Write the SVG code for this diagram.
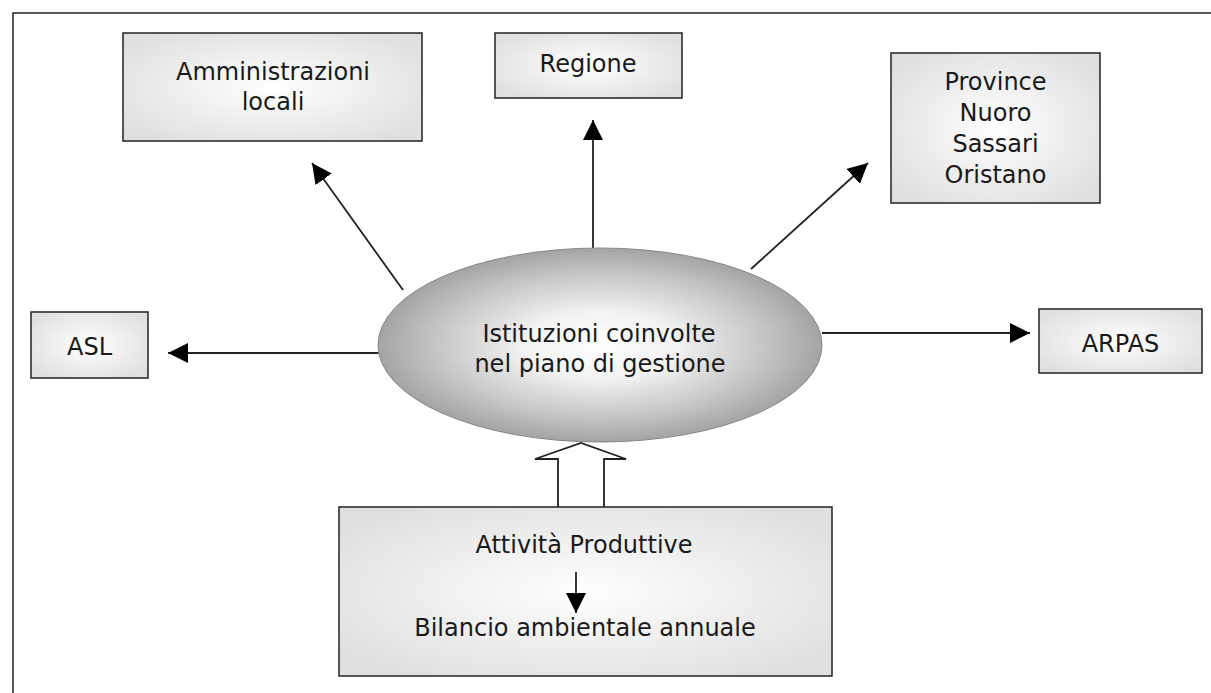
<svg xmlns="http://www.w3.org/2000/svg" width="1211" height="693" viewBox="0 0 1211 693">
<defs>
<radialGradient id="boxg" cx="50%" cy="50%" r="60%">
<stop offset="0" stop-color="#ffffff"/>
<stop offset="1" stop-color="#e0e0e0"/>
</radialGradient>
<radialGradient id="ellg" cx="50%" cy="50%" r="50%">
<stop offset="0" stop-color="#ffffff"/>
<stop offset="0.35" stop-color="#f2f2f2"/>
<stop offset="0.75" stop-color="#c4c4c4"/>
<stop offset="1" stop-color="#a4a4a4"/>
</radialGradient>
<marker id="ah" markerUnits="userSpaceOnUse" markerWidth="22" markerHeight="20" refX="20" refY="10" orient="auto">
<path d="M0,0 L20,10 L0,20 Z" fill="#000"/>
</marker>
</defs>
<style>
.box{fill:url(#boxg);stroke:#222;stroke-width:1.5}
.t{font-family:"DejaVu Sans",Verdana,sans-serif;font-size:24px;fill:#1a1a1a;text-anchor:middle}
.c{stroke:#222;stroke-width:1.8;fill:none}
</style>
<rect width="1211" height="693" fill="#fff"/>
<path d="M13,693 L13,13 L1211,13" fill="none" stroke="#222" stroke-width="1.5"/>

<g id="connectors">
<line class="c" x1="593" y1="248" x2="593" y2="120" marker-end="url(#ah)"/>
<line class="c" x1="403" y1="290" x2="312" y2="163" marker-end="url(#ah)"/>
<line class="c" x1="751" y1="269" x2="868" y2="163" marker-end="url(#ah)"/>
<line class="c" x1="379" y1="353" x2="168" y2="353" marker-end="url(#ah)"/>
<line class="c" x1="822" y1="333" x2="1030" y2="333" marker-end="url(#ah)"/>
<path d="M558,507 L558,459 L535,459 L581,443 L626,459 L604,459 L604,507" fill="#fff" stroke="#222" stroke-width="1.8"/>
</g>

<g id="amministrazioni">
<rect class="box" x="123" y="33" width="299" height="108"/>
<text class="t" x="273" y="80">Amministrazioni</text>
<text class="t" x="273" y="110">locali</text>
</g>

<g id="regione">
<rect class="box" x="495" y="33" width="187" height="65"/>
<text class="t" x="588" y="72">Regione</text>
</g>

<g id="province">
<rect class="box" x="891" y="53" width="209" height="150"/>
<text class="t" x="995.5" y="90">Province</text>
<text class="t" x="995.5" y="121">Nuoro</text>
<text class="t" x="995.5" y="152">Sassari</text>
<text class="t" x="995.5" y="183">Oristano</text>
</g>

<g id="asl">
<rect class="box" x="31" y="312" width="117" height="66"/>
<text class="t" x="89.5" y="355">ASL</text>
</g>

<g id="arpas">
<rect class="box" x="1039" y="309" width="163" height="64"/>
<text class="t" x="1120.5" y="352">ARPAS</text>
</g>

<g id="istituzioni">
<ellipse cx="600" cy="345" rx="222" ry="97" fill="url(#ellg)" stroke="#888" stroke-width="1"/>
<text class="t" x="599" y="342">Istituzioni coinvolte</text>
<text class="t" x="600" y="372">nel piano di gestione</text>
</g>

<g id="attivita">
<rect class="box" x="339" y="507" width="493" height="169"/>
<text class="t" x="584" y="553">Attività Produttive</text>
<line class="c" x1="576" y1="572" x2="576" y2="613" marker-end="url(#ah)"/>
<text class="t" x="585" y="636">Bilancio ambientale annuale</text>
</g>
</svg>
